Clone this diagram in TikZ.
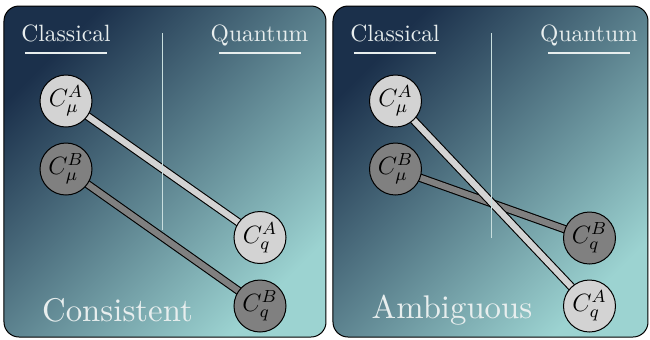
\RequirePackage{fix-cm}
\documentclass[tikz,border=0pt]{standalone}
\usepackage{fontspec}
\setmainfont{lmroman10-regular}[Extension=.otf]
\usetikzlibrary{calc}
\definecolor{navy}{HTML}{1B304B}
\definecolor{teal2}{HTML}{9CD3D1}
\definecolor{lgray}{HTML}{D3D3D3}
\definecolor{dgray}{HTML}{808080}
\definecolor{txt}{HTML}{E8EEEE}
\definecolor{sep}{HTML}{C8DEDE}
\pgfdeclarelayer{panel}
\pgfdeclarelayer{links}
\pgfsetlayers{panel,links,main}
\tikzset{
  panelbox/.style={rounded corners=7.5pt, draw=black, line width=0.5pt,
    top color=navy, bottom color=teal2, shading angle=45},
  cnode/.style={circle, draw=black, line width=0.5pt, minimum size=26pt, inner sep=0pt,
    font=\fontsize{12.5}{14}\selectfont},
  cA/.style={cnode, fill=lgray},
  cB/.style={cnode, fill=dgray},
  linkA/.style={draw=black, line width=0.55pt, double=lgray, double distance=3.1pt},
  linkB/.style={draw=black, line width=0.55pt, double=dgray, double distance=3.1pt},
  head/.style={text=txt, anchor=base, inner sep=0pt, font=\fontsize{11.8}{14}\selectfont},
  big/.style={text=txt, anchor=base, inner sep=0pt, font=\fontsize{16.4}{20}\selectfont},
  rule/.style={draw=txt, line width=0.6pt},
  sepline/.style={draw=sep, line width=0.5pt},
}
\begin{document}
\begin{tikzpicture}[x=0.5pt,y=-0.5pt]
\useasboundingbox (0,0) rectangle (650,339);
% panels
\begin{pgfonlayer}{panel}
\shadedraw[panelbox] (4,6) rectangle (326,337);
\shadedraw[panelbox] (333,6) rectangle (648,337);
\end{pgfonlayer}
% ---------- panel 1 ----------
\node[head] (cl1) at (66,41.5) {Classical};
\node[head] (qu1) at (259.5,41.5) {Quantum};
\draw[rule] (25,53) -- (107,53);
\draw[rule] (219,53) -- (301,53);
\draw[sepline] (163,33) -- (163,230);
\node[cA] (muA1) at (66,101) {$C^A_\mu$};
\node[cB] (muB1) at (66,169) {$C^B_\mu$};
\node[cA] (qA1) at (260,237.5) {$C^A_q$};
\node[cB] (qB1) at (260,306) {$C^B_q$};
\begin{pgfonlayer}{links}
\draw[linkA] (muA1.center) -- (qA1.center);
\draw[linkB] (muB1.center) -- (qB1.center);
\end{pgfonlayer}
\node[big] (cons) at (117.5,321.5) {Consistent};
% ---------- panel 2 ----------
\node[head] (cl2) at (395,41.5) {Classical};
\node[head] (qu2) at (589,41.5) {Quantum};
\draw[rule] (354,53) -- (436,53);
\draw[rule] (548,53) -- (630,53);
\draw[sepline] (492,33) -- (492,238);
\node[cA] (muA2) at (395.5,101) {$C^A_\mu$};
\node[cB] (muB2) at (395.5,169) {$C^B_\mu$};
\node[cB] (qB2) at (589.5,238) {$C^B_q$};
\node[cA] (qA2) at (589.5,306) {$C^A_q$};
\begin{pgfonlayer}{links}
\draw[linkB] (muB2.center) -- (qB2.center);
\draw[linkA] (muA2.center) -- (qA2.center);
\end{pgfonlayer}
\node[big] (amb) at (452,318) {Ambiguous};
\end{tikzpicture}
\end{document}
